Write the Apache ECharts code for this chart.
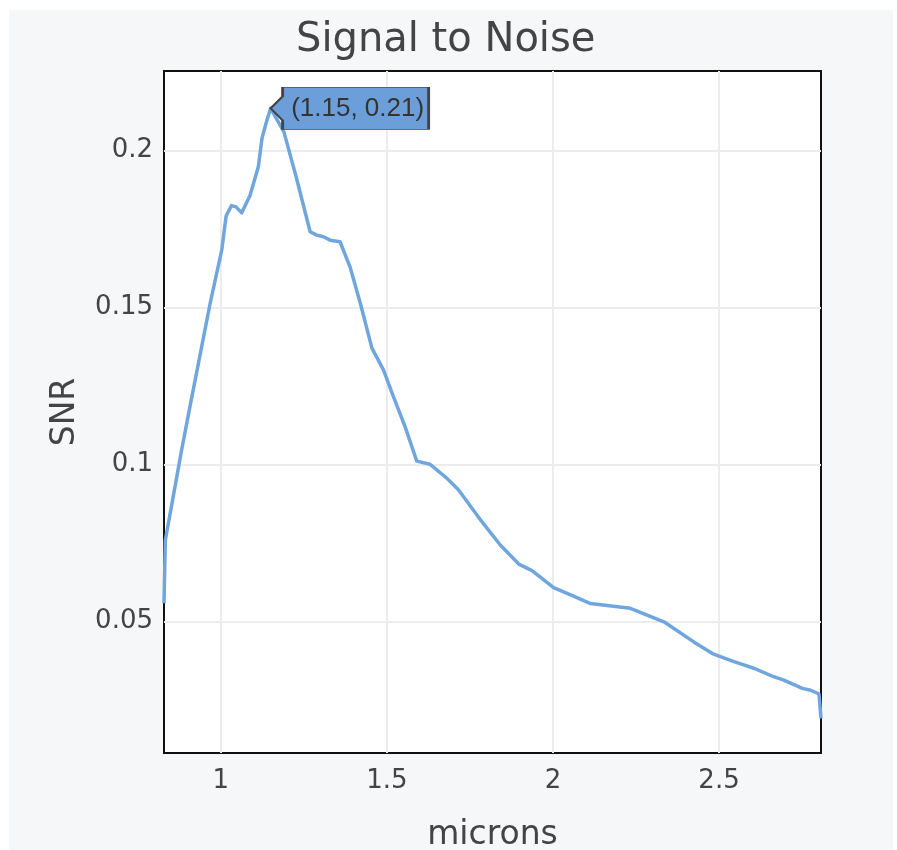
<!DOCTYPE html>
<html>
<head>
<meta charset="utf-8">
<script src="https://cdn.jsdelivr.net/npm/echarts@6/dist/echarts.min.js"></script>
<style>
  html, body { margin: 0; padding: 0; background: #ffffff; }
  #paper { position: absolute; left: 9px; top: 10px; width: 884px; height: 840px; background: #f6f7f9; }
  #chart { position: absolute; left: 0; top: 0; width: 897px; height: 850px; }
</style>
</head>
<body>
<div id="paper"></div>
<div id="chart"></div>
<script>
// Wavelength (microns) and signal-to-noise ratio
const microns = [0.829, 0.833, 0.882, 0.907, 0.968, 1.003, 1.016, 1.032, 1.046, 1.063,
  1.088, 1.113, 1.124, 1.139, 1.15, 1.19, 1.227, 1.269, 1.289, 1.309,
  1.329, 1.359, 1.389, 1.42, 1.455, 1.49, 1.52, 1.555, 1.59, 1.63,
  1.681, 1.716, 1.786, 1.842, 1.897, 1.937, 2.002, 2.062, 2.113, 2.233,
  2.334, 2.424, 2.484, 2.545, 2.605, 2.66, 2.695, 2.751, 2.776, 2.801, 2.807];
const snr = [0.0558, 0.0759, 0.1046, 0.1184, 0.1514, 0.1684, 0.1792, 0.1825, 0.1821, 0.1802,
  0.1857, 0.1949, 0.204, 0.2098, 0.2135, 0.206, 0.1916, 0.1742, 0.1731, 0.1726,
  0.1715, 0.171, 0.163, 0.1514, 0.1371, 0.1301, 0.1216, 0.112, 0.1011, 0.1001,
  0.0956, 0.0919, 0.0818, 0.0743, 0.0683, 0.0662, 0.0608, 0.0581, 0.0557, 0.0542,
  0.0499, 0.0435, 0.0396, 0.0372, 0.0351, 0.0326, 0.0313, 0.0287, 0.0281, 0.0269, 0.0191];
const xTicks = [1, 1.5, 2, 2.5];
const yTicks = [0.05, 0.1, 0.15, 0.2];
const yRange = [0.0081, 0.2254];

const points = microns.map((x, i) => [x, snr[i]]);
let peak = 0;
snr.forEach((v, i) => { if (v > snr[peak]) peak = i; });

const chart = echarts.init(document.getElementById('chart'), null, { renderer: 'canvas' });
const textColor = '#444';
const tickFont = { fontFamily: 'DejaVu Sans', fontSize: 26, color: textColor };

chart.setOption({
  animation: false,
  backgroundColor: 'transparent',
  title: {
    text: 'Signal to Noise',
    left: 291,
    top: 16,
    textStyle: { fontFamily: 'DejaVu Sans', fontSize: 40, fontWeight: 'normal', color: textColor }
  },
  grid: {
    left: 164, top: 71, width: 657, height: 682,
    outerBoundsMode: 'none',
    containLabel: false,
    show: true, backgroundColor: '#ffffff', borderColor: '#111', borderWidth: 2
  },
  xAxis: {
    type: 'value',
    min: microns[0],
    max: microns[microns.length - 1],
    name: 'microns',
    nameLocation: 'middle',
    nameGap: 66,
    nameTextStyle: { fontFamily: 'DejaVu Sans', fontSize: 33, color: textColor },
    axisLine: { show: false },
    axisTick: { show: false, customValues: xTicks },
    axisLabel: Object.assign({ customValues: xTicks, margin: 15 }, tickFont),
    splitLine: { show: true, lineStyle: { color: '#ececec', width: 2 } }
  },
  yAxis: {
    type: 'value',
    min: yRange[0],
    max: yRange[1],
    name: 'SNR',
    nameLocation: 'middle',
    nameGap: 82,
    nameTextStyle: { fontFamily: 'DejaVu Sans', fontSize: 33, color: textColor },
    axisLine: { show: false },
    axisTick: { show: false, customValues: yTicks },
    axisLabel: Object.assign({ customValues: yTicks, margin: 11 }, tickFont),
    splitLine: { show: true, lineStyle: { color: '#ececec', width: 2 } }
  },
  series: [{
    type: 'line',
    data: points,
    showSymbol: false,
    smooth: false,
    lineStyle: { color: '#6fa6de', width: 3.5, join: 'round' },
    markPoint: {
      symbol: 'path://M12 0 L158 0 L158 42 L12 42 L12 33 L0 21 L12 9 Z',
      symbolSize: [158, 42],
      symbolOffset: [79, 0],
      itemStyle: { color: '#6c9fd9', borderColor: '#444', borderWidth: 1.5 },
      label: {
        show: true,
        position: 'inside',
        offset: [8, 0],
        fontFamily: 'Liberation Sans',
        fontSize: 26,
        color: '#333',
        formatter: () => '(' + microns[peak].toFixed(2) + ', ' + snr[peak].toFixed(2) + ')'
      },
      data: [{ coord: [microns[peak], snr[peak]] }]
    }
  }]
});
</script>
</body>
</html>
